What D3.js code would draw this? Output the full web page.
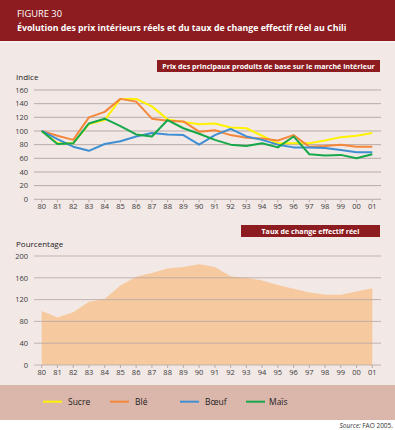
<!DOCTYPE html>
<html>
<head>
<meta charset="utf-8">
<script src="https://cdn.jsdelivr.net/npm/d3@7"></script>
<style>
  html, body { margin: 0; padding: 0; background: #fff; }
  svg { display: block; font-family: "Open Sans", "Noto Sans", sans-serif; }
</style>
</head>
<body>
<svg id="chart" width="395" height="430"></svg>
<script>
// ---- data ----
const years = ["80","81","82","83","84","85","86","87","88","89","90",
               "91","92","93","94","95","96","97","98","99","00","01"];
const sucre = [100, 82, 82, 110, 116, 147, 147, 136, 117, 113, 110, 111, 105, 104, 93, 82, 82, 82, 86, 91, 93, 97];
const ble   = [100, 93, 87, 120, 128, 147, 143, 118, 115, 114, 99, 101, 94, 90, 89, 86, 94, 77, 78, 80, 77, 77];
const boeuf = [100, 88, 77, 71, 81, 85, 92, 97, 95, 94, 80, 94, 103, 92, 87, 80, 76, 76, 75, 72, 69, 69];
const mais  = [100, 81, 82, 111, 118, 107, 95, 92, 116, 104, 96, 87, 80, 78, 82, 76, 92, 66, 64, 65, 60, 66];
const tauxChange = [99, 87, 97, 116, 121, 146, 162, 169, 177, 180, 185, 180, 163, 160, 155, 147, 140, 133, 129, 129, 135, 141];
const indiceTicks = [0, 20, 40, 60, 80, 100, 120, 140, 160];
const pctTicks = [0, 40, 80, 120, 160, 200];
const seriesNames = ["Sucre", "Blé", "Bœuf", "Maïs"];
const seriesColors = ["#fff200", "#f5873a", "#3f8fd2", "#17a84a"];

const svg = d3.select("#chart");
const RED = "#8c1c20", BG = "#f2e8e6", GRID = "#b9aaa7", INK = "#3a3a3a";

// panels
svg.append("rect").attr("x", 0).attr("y", 0).attr("width", 395).attr("height", 420).attr("fill", BG);
svg.append("rect").attr("x", 0).attr("y", 0).attr("width", 395).attr("height", 41).attr("fill", RED);
svg.append("rect").attr("x", 0).attr("y", 41).attr("width", 395).attr("height", 2).attr("fill", "#f7f0ef");
svg.append("rect").attr("x", 0).attr("y", 385).attr("width", 395).attr("height", 35).attr("fill", "#dab6ab");

// scale a text's font size so it spans w pixels
function fitText(sel, w) {
  const n = sel.node(), len = n.getComputedTextLength();
  const fs = parseFloat(sel.attr("font-size"));
  sel.attr("font-size", (fs * w / len).toFixed(2));
}

svg.append("text").attr("x", 17).attr("y", 17).attr("fill", "#fff")
  .attr("font-size", 9).text("FIGURE 30").call(fitText, 45);
svg.append("text").attr("x", 17).attr("y", 31).attr("fill", "#fff")
  .attr("font-size", 10).attr("font-weight", 700)
  .text("Évolution des prix intérieurs réels et du taux de change effectif réel au Chili")
  .call(fitText, 330);

const x = d3.scalePoint().domain(years).range([41.7, 372.3]);

function panelLabel(x0, x1, y0, y1, txt, tw) {
  svg.append("rect").attr("x", x0).attr("y", y0).attr("width", x1 - x0).attr("height", y1 - y0).attr("fill", RED);
  svg.append("text").attr("x", (x0 + x1) / 2).attr("y", y1 - 3.3).attr("text-anchor", "middle")
    .attr("fill", "#fff").attr("font-size", 7).attr("font-weight", 700).text(txt)
    .call(fitText, tw);
}

function frame(g, y, ticks, title, titleY) {
  g.selectAll("line.grid").data(ticks).join("line").attr("class", "grid")
    .attr("x1", 34).attr("x2", 381).attr("y1", d => y(d)).attr("y2", d => y(d))
    .attr("stroke", GRID).attr("stroke-width", 1);
  g.selectAll("text.yt").data(ticks).join("text").attr("class", "yt")
    .attr("x", 28).attr("y", d => y(d) + 2.8).attr("text-anchor", "end")
    .attr("font-size", 7.5).attr("fill", INK).text(d => d);
  g.selectAll("line.xt").data(years).join("line").attr("class", "xt")
    .attr("x1", d => x(d)).attr("x2", d => x(d)).attr("y1", y(0)).attr("y2", y(0) + 3)
    .attr("stroke", GRID);
  g.selectAll("text.xl").data(years).join("text").attr("class", "xl")
    .attr("x", d => x(d)).attr("y", y(0) + 10).attr("text-anchor", "middle")
    .attr("font-size", 7.5).attr("fill", INK).text(d => d);
  g.append("text").attr("x", 16).attr("y", titleY).attr("font-size", 8).attr("fill", "#222").text(title);
}

// ---- top: domestic prices ----
panelLabel(157, 380, 60, 72, "Prix des principaux produits de base sur le marché intérieur", 213);
const y1 = d3.scaleLinear().domain([0, 160]).range([199.3, 90]);
const topG = svg.append("g");
frame(topG, y1, indiceTicks, "Indice", 80);
const line1 = d3.line().x((d, i) => x(years[i])).y(d => y1(d));
[sucre, ble, boeuf, mais].forEach((s, k) => {
  topG.append("path").datum(s).attr("d", line1).attr("fill", "none")
    .attr("stroke", seriesColors[k]).attr("stroke-width", 2).attr("stroke-linejoin", "round");
});

// ---- bottom: real effective exchange rate ----
panelLabel(241, 380, 225, 237, "Taux de change effectif réel", 98);
const y2 = d3.scaleLinear().domain([0, 200]).range([365, 256]);
const botG = svg.append("g");
botG.append("path").datum(tauxChange)
  .attr("d", d3.area().x((d, i) => x(years[i])).y0(y2(0)).y1(d => y2(d)))
  .attr("fill", "#f6c99e");
frame(botG, y2, pctTicks, "Pourcentage", 247);
botG.selectAll("line.grid").attr("stroke-opacity", 0.85);

// ---- legend ----
const legX = [43, 110, 180, 246];
const leg = svg.append("g");
seriesNames.forEach((n, k) => {
  leg.append("line").attr("x1", legX[k]).attr("x2", legX[k] + 19).attr("y1", 401.7).attr("y2", 401.7)
    .attr("stroke", seriesColors[k]).attr("stroke-width", 2);
  leg.append("text").attr("x", legX[k] + (k === 3 ? 23 : 25)).attr("y", 404.5)
    .attr("font-size", 8.5).attr("fill", "#222").text(n);
});

// ---- source ----
const src = svg.append("text").attr("x", 393).attr("y", 428).attr("text-anchor", "end")
  .attr("font-size", 6.5).attr("fill", "#333");
src.append("tspan").attr("font-style", "italic").text("Source: ");
src.append("tspan").text("FAO 2005.");
</script>
</body>
</html>
